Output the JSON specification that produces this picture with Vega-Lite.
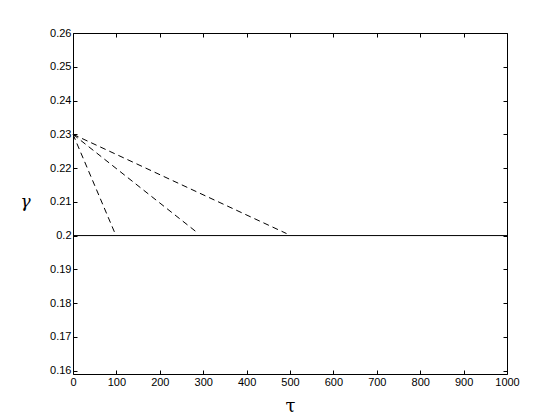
{
  "$schema": "https://vega.github.io/schema/vega-lite/v6.json",
  "autosize": {"type": "none"},
  "width": 434,
  "height": 341,
  "padding": {"left": 73, "top": 33, "right": 53, "bottom": 46},
  "background": "white",
  "config": {
    "view": {"stroke": "black", "strokeWidth": 1},
    "axis": {
      "grid": false,
      "domain": false,
      "ticks": true,
      "tickColor": "black",
      "tickSize": -4,
      "labelFlush": false,
      "labelFont": "Liberation Sans",
      "labelFontSize": 11,
      "labelColor": "black"
    }
  },
  "datasets": {
    "lines": [
      {"tau": 0, "gamma": 0.23, "s": "a"},
      {"tau": 97, "gamma": 0.2006, "s": "a"},
      {"tau": 0, "gamma": 0.23, "s": "b"},
      {"tau": 289, "gamma": 0.2006, "s": "b"},
      {"tau": 0, "gamma": 0.23, "s": "c"},
      {"tau": 492, "gamma": 0.2006, "s": "c"}
    ],
    "base": [
      {"tau": 0, "gamma": 0.2},
      {"tau": 1000, "gamma": 0.2}
    ]
  },
  "layer": [
    {
      "data": {"name": "base"},
      "mark": {"type": "line", "color": "black", "strokeWidth": 1, "clip": true},
      "encoding": {
        "x": {"field": "tau", "type": "quantitative",
          "scale": {"domain": [0, 1000], "nice": false, "zero": false},
          "axis": {"orient": "bottom", "values": [0,100,200,300,400,500,600,700,800,900,1000], "format": "d",
            "labelPadding": 6, "title": "τ", "titleFont": "DejaVu Serif", "titleFontSize": 18,
            "titleFontWeight": "normal", "titleColor": "black", "titlePadding": 10}},
        "y": {"field": "gamma", "type": "quantitative",
          "scale": {"domain": [0.159, 0.26], "nice": false, "zero": false},
          "axis": {"orient": "left", "values": [0.16,0.17,0.18,0.19,0.2,0.21,0.22,0.23,0.24,0.25,0.26],
            "labelPadding": 6, "labelExpr": "datum.value == 0.2 ? '0.2' : format(datum.value, '.2f')",
            "title": "γ", "titleAngle": 0, "titleFont": "DejaVu Serif", "titleFontStyle": "italic", "titleFontSize": 17,
            "titleFontWeight": "normal", "titleColor": "black", "titleX": -48, "titleY": 168, "titleAlign": "center", "titleBaseline": "middle"}}
      }
    },
    {
      "data": {"name": "lines"},
      "mark": {"type": "line", "color": "black", "strokeWidth": 1, "strokeDash": [6, 4]},
      "encoding": {
        "x": {"field": "tau", "type": "quantitative",
          "axis": {"orient": "top", "values": [0,100,200,300,400,500,600,700,800,900,1000], "labels": false, "title": null}},
        "y": {"field": "gamma", "type": "quantitative",
          "axis": {"orient": "right", "values": [0.16,0.17,0.18,0.19,0.2,0.21,0.22,0.23,0.24,0.25,0.26], "labels": false, "title": null}},
        "detail": {"field": "s"}
      }
    }
  ],
  "resolve": {"axis": {"x": "independent", "y": "independent"}}
}
